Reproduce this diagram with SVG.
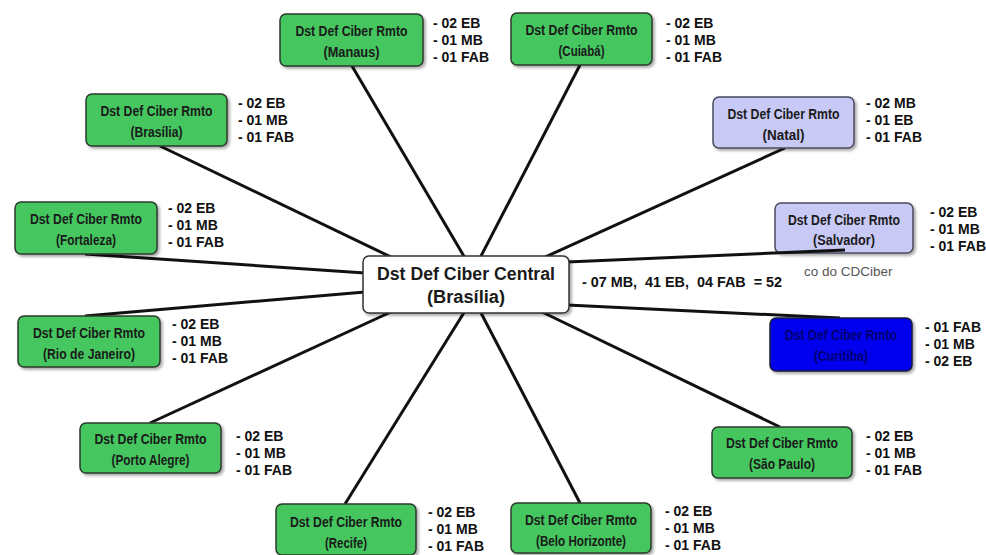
<svg xmlns="http://www.w3.org/2000/svg" width="986" height="555" viewBox="0 0 986 555">
<defs>
<filter id="sh" x="-10%" y="-10%" width="130%" height="140%">
<feGaussianBlur in="SourceAlpha" stdDeviation="1.5"/>
<feOffset dx="1.5" dy="2" result="o"/>
<feComponentTransfer><feFuncA type="linear" slope="0.35"/></feComponentTransfer>
<feMerge><feMergeNode/><feMergeNode in="SourceGraphic"/></feMerge>
</filter>
</defs>
<style>
.g{fill:#45c65e;stroke:#2b3a2e;stroke-width:1.5}
.p{fill:#c9c9f6;stroke:#4a4a5e;stroke-width:1.5}
.b{fill:#0000ee;stroke:#1a1a3a;stroke-width:1.5}
.w{fill:#ffffff;stroke:#333;stroke-width:1.5}
.t{font-family:"Liberation Sans",Arial,sans-serif;font-weight:bold;font-size:14.5px;fill:#1a1a1a;text-anchor:middle}
.tb{fill:#000070}
.l{font-family:"Liberation Sans",Arial,sans-serif;font-weight:bold;font-size:14px;fill:#111}
.c{font-family:"Liberation Sans",Arial,sans-serif;font-weight:bold;font-size:18px;fill:#1a1a1a;text-anchor:middle}
.e{stroke:#111;stroke-width:3;fill:none}
</style>
<rect width="986" height="555" fill="#fff"/>
<g id="connectors">
<line class="e" x1="352" y1="66" x2="465" y2="258"/>
<line class="e" x1="580" y1="65" x2="480" y2="258"/>
<line class="e" x1="160" y1="146" x2="393" y2="258"/>
<line class="e" x1="785" y1="148" x2="543" y2="258"/>
<line class="e" x1="85" y1="254" x2="365" y2="273"/>
<line class="e" x1="85" y1="316" x2="365" y2="292"/>
<line class="e" x1="150" y1="423" x2="393" y2="311"/>
<line class="e" x1="345" y1="504" x2="465" y2="311"/>
<line class="e" x1="580" y1="503" x2="480" y2="311"/>
<line class="e" x1="780" y1="427" x2="540" y2="311"/>
</g>
<g id="n-manaus">
<rect class="g" x="280" y="14" width="143" height="52" rx="6" filter="url(#sh)"/>
<text class="t" x="351.5" y="36" textLength="112" lengthAdjust="spacingAndGlyphs">Dst Def Ciber Rmto</text>
<text class="t" x="351.5" y="57" textLength="56" lengthAdjust="spacingAndGlyphs">(Manaus)</text>
<text class="l" x="433" y="28">- 02 EB</text><text class="l" x="433" y="45">- 01 MB</text><text class="l" x="433" y="62">- 01 FAB</text>
</g>
<g id="n-cuiaba">
<rect class="g" x="511" y="13" width="141" height="52" rx="6" filter="url(#sh)"/>
<text class="t" x="581.5" y="35" textLength="112" lengthAdjust="spacingAndGlyphs">Dst Def Ciber Rmto</text>
<text class="t" x="581.5" y="56" textLength="46" lengthAdjust="spacingAndGlyphs">(Cuiabá)</text>
<text class="l" x="666" y="28">- 02 EB</text><text class="l" x="666" y="45">- 01 MB</text><text class="l" x="666" y="62">- 01 FAB</text>
</g>
<g id="n-brasilia">
<rect class="g" x="86" y="94" width="141" height="52" rx="6" filter="url(#sh)"/>
<text class="t" x="156.5" y="116" textLength="112" lengthAdjust="spacingAndGlyphs">Dst Def Ciber Rmto</text>
<text class="t" x="156.5" y="137" textLength="52" lengthAdjust="spacingAndGlyphs">(Brasília)</text>
<text class="l" x="238" y="108">- 02 EB</text><text class="l" x="238" y="125">- 01 MB</text><text class="l" x="238" y="142">- 01 FAB</text>
</g>
<g id="n-natal">
<rect class="p" x="713" y="97" width="141" height="51" rx="6" filter="url(#sh)"/>
<text class="t" x="783.5" y="119" textLength="112" lengthAdjust="spacingAndGlyphs">Dst Def Ciber Rmto</text>
<text class="t" x="783.5" y="140" textLength="42" lengthAdjust="spacingAndGlyphs">(Natal)</text>
<text class="l" x="866" y="108">- 02 MB</text><text class="l" x="866" y="125">- 01 EB</text><text class="l" x="866" y="142">- 01 FAB</text>
</g>
<g id="n-fortaleza">
<rect class="g" x="15" y="202" width="142" height="52" rx="6" filter="url(#sh)"/>
<text class="t" x="86" y="224" textLength="112" lengthAdjust="spacingAndGlyphs">Dst Def Ciber Rmto</text>
<text class="t" x="86" y="245" textLength="60" lengthAdjust="spacingAndGlyphs">(Fortaleza)</text>
<text class="l" x="168" y="213">- 02 EB</text><text class="l" x="168" y="230">- 01 MB</text><text class="l" x="168" y="247">- 01 FAB</text>
</g>
<g id="n-salvador">
<rect class="p" x="775" y="203" width="138" height="50" rx="6" filter="url(#sh)"/>
<text class="t" x="844" y="225" textLength="112" lengthAdjust="spacingAndGlyphs">Dst Def Ciber Rmto</text>
<text class="t" x="844" y="245" textLength="62" lengthAdjust="spacingAndGlyphs">(Salvador)</text>
<text class="l" x="930" y="217">- 02 EB</text><text class="l" x="930" y="234">- 01 MB</text><text class="l" x="930" y="251">- 01 FAB</text>
</g>
<g id="connectors-top">
<line class="e" x1="567" y1="262" x2="845" y2="250"/>
<line class="e" x1="567" y1="305" x2="840" y2="318"/>
</g>
<g id="n-central">
<rect class="w" x="363" y="256" width="206" height="57" rx="6" filter="url(#sh)"/>
<text class="c" x="466" y="280" textLength="178" lengthAdjust="spacingAndGlyphs">Dst Def Ciber Central</text>
<text class="c" x="466" y="303" textLength="78" lengthAdjust="spacingAndGlyphs">(Brasília)</text>
<text class="l" x="582" y="287" xml:space="preserve" style="white-space:pre" textLength="200" lengthAdjust="spacingAndGlyphs">- 07 MB,  41 EB,  04 FAB  = 52</text>
<text x="804" y="276" style="font-family:'Liberation Sans',Arial,sans-serif;font-size:13.5px;fill:#555">co do CDCiber</text>
</g>
<g id="n-rio">
<rect class="g" x="18" y="316" width="142" height="51" rx="6" filter="url(#sh)"/>
<text class="t" x="89" y="338" textLength="112" lengthAdjust="spacingAndGlyphs">Dst Def Ciber Rmto</text>
<text class="t" x="89" y="359" textLength="92" lengthAdjust="spacingAndGlyphs">(Rio de Janeiro)</text>
<text class="l" x="172" y="329">- 02 EB</text><text class="l" x="172" y="346">- 01 MB</text><text class="l" x="172" y="363">- 01 FAB</text>
</g>
<g id="n-curitiba">
<rect class="b" x="770" y="318" width="142" height="53" rx="6" filter="url(#sh)"/>
<text class="t tb" x="841" y="340" textLength="112" lengthAdjust="spacingAndGlyphs">Dst Def Ciber Rmto</text>
<text class="t tb" x="841" y="361" textLength="54" lengthAdjust="spacingAndGlyphs">(Curitiba)</text>
<text class="l" x="925" y="332">- 01 FAB</text><text class="l" x="925" y="349">- 01 MB</text><text class="l" x="925" y="366">- 02 EB</text>
</g>
<g id="n-portoalegre">
<rect class="g" x="80" y="423" width="141" height="50" rx="6" filter="url(#sh)"/>
<text class="t" x="150.5" y="444" textLength="112" lengthAdjust="spacingAndGlyphs">Dst Def Ciber Rmto</text>
<text class="t" x="150.5" y="465" textLength="78" lengthAdjust="spacingAndGlyphs">(Porto Alegre)</text>
<text class="l" x="236" y="441">- 02 EB</text><text class="l" x="236" y="458">- 01 MB</text><text class="l" x="236" y="475">- 01 FAB</text>
</g>
<g id="n-saopaulo">
<rect class="g" x="712" y="427" width="140" height="51" rx="6" filter="url(#sh)"/>
<text class="t" x="782" y="448" textLength="112" lengthAdjust="spacingAndGlyphs">Dst Def Ciber Rmto</text>
<text class="t" x="782" y="469" textLength="66" lengthAdjust="spacingAndGlyphs">(São Paulo)</text>
<text class="l" x="866" y="441">- 02 EB</text><text class="l" x="866" y="458">- 01 MB</text><text class="l" x="866" y="475">- 01 FAB</text>
</g>
<g id="n-recife">
<rect class="g" x="276" y="504" width="140" height="51" rx="6" filter="url(#sh)"/>
<text class="t" x="346" y="527" textLength="112" lengthAdjust="spacingAndGlyphs">Dst Def Ciber Rmto</text>
<text class="t" x="346" y="548" textLength="42" lengthAdjust="spacingAndGlyphs">(Recife)</text>
<text class="l" x="428" y="517">- 02 EB</text><text class="l" x="428" y="534">- 01 MB</text><text class="l" x="428" y="551">- 01 FAB</text>
</g>
<g id="n-belohorizonte">
<rect class="g" x="511" y="503" width="140" height="50" rx="6" filter="url(#sh)"/>
<text class="t" x="581" y="525" textLength="112" lengthAdjust="spacingAndGlyphs">Dst Def Ciber Rmto</text>
<text class="t" x="581" y="546" textLength="90" lengthAdjust="spacingAndGlyphs">(Belo Horizonte)</text>
<text class="l" x="665" y="516">- 02 EB</text><text class="l" x="665" y="533">- 01 MB</text><text class="l" x="665" y="550">- 01 FAB</text>
</g>
</svg>
